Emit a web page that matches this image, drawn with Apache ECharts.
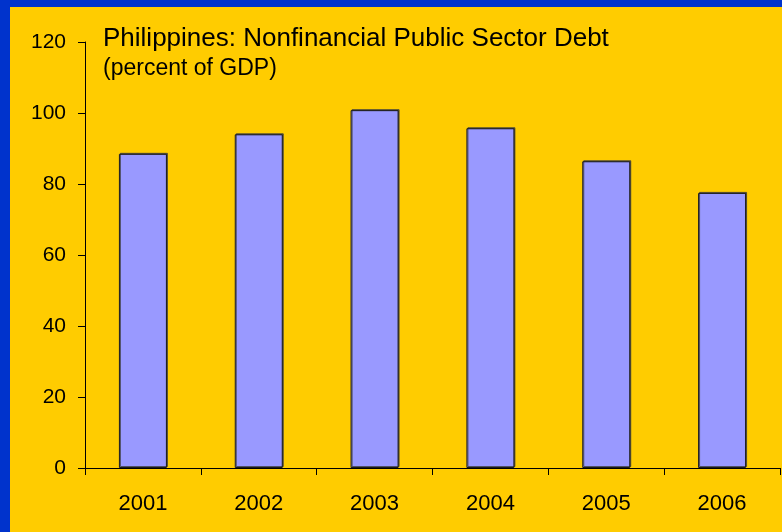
<!DOCTYPE html>
<html>
<head>
<meta charset="utf-8">
<script src="https://cdn.jsdelivr.net/npm/echarts@6/dist/echarts.min.js"></script>
<style>
  html, body { margin: 0; padding: 0; background: #0033CC; }
  #chart { width: 782px; height: 532px; }
</style>
</head>
<body>
<div id="chart"></div>
<script>
// Nonfinancial public sector debt, percent of GDP
const years = ['2001', '2002', '2003', '2004', '2005', '2006'];
const debtPctGdp = [88.5, 94.0, 100.8, 95.7, 86.4, 77.5];
const yTicks = [0, 20, 40, 60, 80, 100, 120];

const titleText = 'Philippines: Nonfinancial Public Sector Debt';
const subtitleText = '(percent of GDP)';

const font = '"Liberation Sans", Arial, sans-serif';

const chart = echarts.init(document.getElementById('chart'), null, { renderer: 'canvas' });

chart.setOption({
  backgroundColor: '#0033CC',
  animation: false,
  graphic: [
    {
      // yellow panel inside the blue frame (frame visible on left and top)
      type: 'rect',
      z: -10,
      silent: true,
      shape: { x: 10, y: 7, width: 772, height: 525 },
      style: { fill: '#FFCC00' }
    }
  ],
  title: [
    {
      text: titleText,
      left: 103,
      top: 26,
      padding: 0,
      textStyle: { fontFamily: font, fontSize: 26, fontWeight: 'normal', color: '#000' }
    },
    {
      text: subtitleText,
      left: 103,
      top: 57,
      padding: 0,
      textStyle: { fontFamily: font, fontSize: 23, fontWeight: 'normal', color: '#000' }
    }
  ],
  grid: { left: 85, right: 2, top: 42, bottom: 64, containLabel: false },
  xAxis: {
    type: 'category',
    data: years,
    boundaryGap: true,
    axisLine: { show: true, lineStyle: { color: '#000', width: 1 } },
    axisTick: { show: true, alignWithLabel: false, length: 7, inside: false, lineStyle: { color: '#000' } },
    axisLabel: { margin: 25, fontFamily: font, fontSize: 22, color: '#000' },
    splitLine: { show: false }
  },
  yAxis: {
    type: 'value',
    min: yTicks[0],
    max: yTicks[yTicks.length - 1],
    interval: yTicks[1] - yTicks[0],
    axisLine: { show: true, lineStyle: { color: '#000', width: 1 } },
    axisTick: { show: true, length: 7, inside: false, lineStyle: { color: '#000' } },
    axisLabel: { margin: 19, fontFamily: font, fontSize: 21, color: '#000' },
    splitLine: { show: false }
  },
  series: [
    {
      type: 'bar',
      data: debtPctGdp,
      barWidth: 48,
      itemStyle: {
        color: '#9999FF',
        borderColor: '#1a1a1a',
        borderWidth: 1,
        shadowColor: 'rgba(60,60,60,0.8)',
        shadowOffsetX: 1,
        shadowOffsetY: -1,
        shadowBlur: 0
      }
    }
  ]
});
</script>
</body>
</html>
